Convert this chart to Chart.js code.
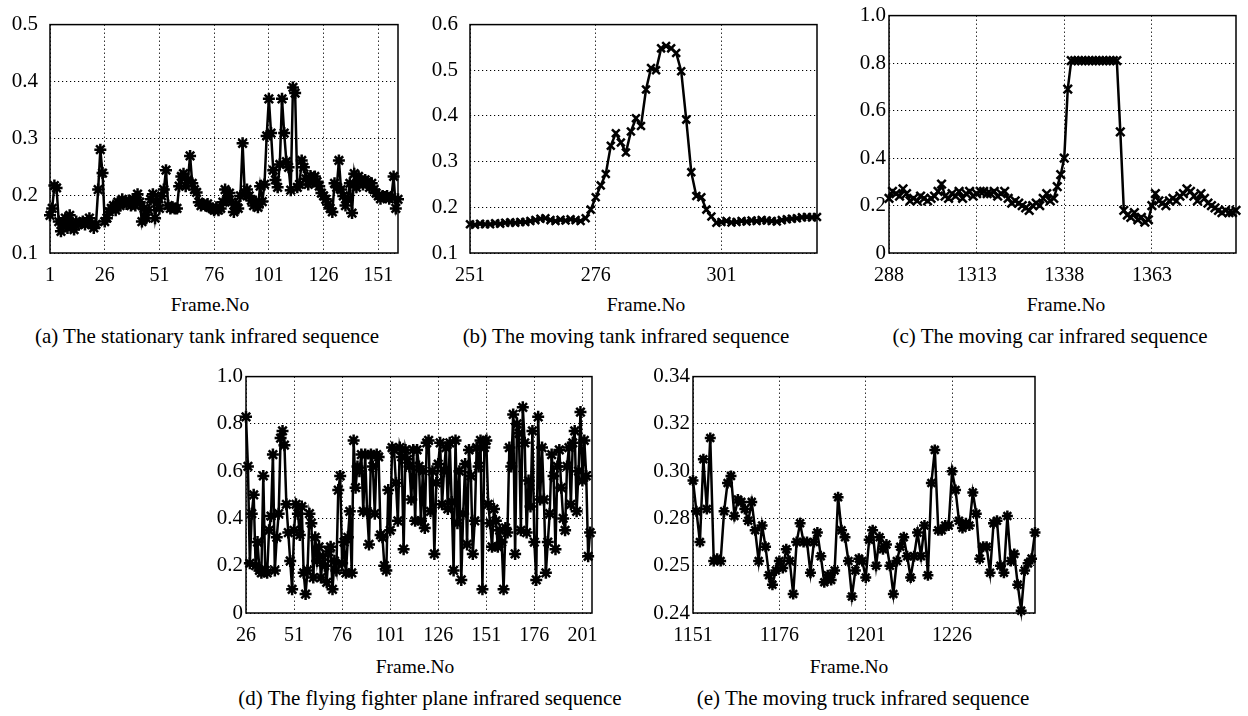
<!DOCTYPE html>
<html>
<head>
<meta charset="utf-8">
<script src="https://cdn.jsdelivr.net/npm/chart.js@4.4.1/dist/chart.umd.min.js"></script>
<style>
  body { margin: 0; background: #fff; width: 1248px; height: 716px; position: relative; overflow: hidden; font-family: "Liberation Serif", "Times New Roman", serif; color: #000; }
  canvas { position: absolute; }
  .lbl { position: absolute; transform: translate(-50%, -50%); white-space: nowrap; line-height: 1; }
  .axis { font-size: 19.5px; }
  .cap { font-size: 21px; }
</style>
</head>
<body>
<canvas id="chartA" width="418" height="287" style="left:0px;top:0px"></canvas>
<canvas id="chartB" width="417" height="287" style="left:420px;top:0px"></canvas>
<canvas id="chartC" width="409" height="287" style="left:839px;top:0px"></canvas>
<canvas id="chartD" width="416" height="286" style="left:196px;top:361px"></canvas>
<canvas id="chartE" width="412" height="286" style="left:643px;top:361px"></canvas>

<div class="lbl axis" style="left:210px;top:305px">Frame.No</div>
<div class="lbl axis" style="left:646px;top:305px">Frame.No</div>
<div class="lbl axis" style="left:1066px;top:305px">Frame.No</div>
<div class="lbl axis" style="left:415px;top:667px">Frame.No</div>
<div class="lbl axis" style="left:849px;top:667px">Frame.No</div>

<div class="lbl cap" style="left:207px;top:336px">(a) The stationary tank infrared sequence</div>
<div class="lbl cap" style="left:626px;top:336px">(b) The moving tank infrared sequence</div>
<div class="lbl cap" style="left:1050px;top:336px">(c) The moving car infrared sequence</div>
<div class="lbl cap" style="left:430px;top:698px">(d) The flying fighter plane infrared sequence</div>
<div class="lbl cap" style="left:863px;top:698px">(e) The moving truck infrared sequence</div>

<script>
// (a) stationary tank, frames 1..160
const startA = 1;
const valuesA = [
  0.166, 0.178, 0.218, 0.214, 0.155, 0.138, 0.150, 0.161, 0.144, 0.166,
  0.150, 0.141, 0.155, 0.150, 0.152, 0.155, 0.150, 0.155, 0.161, 0.150,
  0.144, 0.150, 0.211, 0.281, 0.240, 0.155, 0.161, 0.172, 0.178, 0.183,
  0.175, 0.189, 0.183, 0.194, 0.189, 0.186, 0.192, 0.183, 0.194, 0.183,
  0.203, 0.189, 0.155, 0.178, 0.161, 0.175, 0.194, 0.203, 0.161, 0.189,
  0.178, 0.200, 0.211, 0.245, 0.183, 0.178, 0.180, 0.178, 0.178, 0.217,
  0.234, 0.239, 0.217, 0.228, 0.270, 0.222, 0.211, 0.206, 0.189, 0.183,
  0.186, 0.183, 0.186, 0.180, 0.178, 0.175, 0.180, 0.175, 0.178, 0.189,
  0.211, 0.194, 0.205, 0.189, 0.172, 0.185, 0.178, 0.200, 0.292, 0.205,
  0.211, 0.200, 0.192, 0.183, 0.190, 0.180, 0.217, 0.190, 0.220, 0.305,
  0.370, 0.310, 0.245, 0.228, 0.215, 0.255, 0.370, 0.310, 0.260, 0.250,
  0.210, 0.390, 0.380, 0.215, 0.220, 0.262, 0.250, 0.230, 0.220, 0.235,
  0.225, 0.234, 0.225, 0.217, 0.205, 0.200, 0.194, 0.185, 0.178, 0.172,
  0.222, 0.215, 0.262, 0.211, 0.200, 0.183, 0.195, 0.222, 0.170, 0.239,
  0.215, 0.234, 0.225, 0.220, 0.228, 0.225, 0.215, 0.222, 0.211, 0.205,
  0.200, 0.195, 0.200, 0.198, 0.200, 0.195, 0.198, 0.234, 0.178, 0.194
];
const xTicksA = [1, 26, 51, 76, 101, 126, 151];
const yTicksA = [0.1, 0.2, 0.3, 0.4, 0.5];
const yLabelsA = ['0.1', '0.2', '0.3', '0.4', '0.5'];

// (b) moving tank, frames 251..320
const startB = 251;
const valuesB = [
  0.163, 0.162, 0.164, 0.163, 0.163, 0.165, 0.164, 0.166, 0.167, 0.166,
  0.168, 0.168, 0.170, 0.172, 0.175, 0.176, 0.172, 0.170, 0.173, 0.171,
  0.174, 0.172, 0.170, 0.176, 0.195, 0.222, 0.248, 0.273, 0.335, 0.362,
  0.342, 0.320, 0.366, 0.395, 0.378, 0.458, 0.505, 0.500, 0.548, 0.553,
  0.548, 0.538, 0.498, 0.392, 0.277, 0.225, 0.222, 0.195, 0.180, 0.166,
  0.168, 0.170, 0.167, 0.168, 0.170, 0.169, 0.171, 0.170, 0.172, 0.171,
  0.170, 0.169, 0.172, 0.174, 0.175, 0.176, 0.178, 0.179, 0.178, 0.179
];
const xTicksB = [251, 276, 301];
const yTicksB = [0.1, 0.2, 0.3, 0.4, 0.5, 0.6];
const yLabelsB = ['0.1', '0.2', '0.3', '0.4', '0.5', '0.6'];

// (c) moving car, frames 1288..1387
const startC = 1288;
const valuesC = [
  0.23, 0.26, 0.25, 0.24, 0.27, 0.25, 0.22, 0.23, 0.22, 0.24,
  0.23, 0.22, 0.23, 0.24, 0.26, 0.29, 0.24, 0.23, 0.25, 0.24,
  0.26, 0.23, 0.25, 0.26, 0.24, 0.25, 0.26, 0.26, 0.25, 0.25,
  0.26, 0.24, 0.25, 0.26, 0.23, 0.21, 0.22, 0.21, 0.20, 0.19,
  0.18, 0.20, 0.21, 0.20, 0.23, 0.25, 0.22, 0.23, 0.28, 0.33,
  0.40, 0.69, 0.81, 0.81, 0.81, 0.81, 0.81, 0.81, 0.81, 0.81,
  0.81, 0.81, 0.81, 0.81, 0.81, 0.81, 0.51, 0.18, 0.16, 0.15,
  0.17, 0.14, 0.15, 0.13, 0.14, 0.20, 0.25, 0.22, 0.21, 0.20,
  0.22, 0.23, 0.22, 0.24, 0.25, 0.27, 0.26, 0.24, 0.22, 0.25,
  0.23, 0.21, 0.20, 0.19, 0.18, 0.17, 0.18, 0.17, 0.17, 0.18
];
const xTicksC = [1288, 1313, 1338, 1363];
const xLabelsC = ['288', '1313', '1338', '1363'];
const yTicksC = [0, 0.2, 0.4, 0.6, 0.8, 1.0];
const yLabelsC = ['0', '0.2', '0.4', '0.6', '0.8', '1.0'];

// (d) flying fighter plane, frames 26..205
const startD = 26;
const valuesD = [
  0.83, 0.62, 0.21, 0.42, 0.50, 0.20, 0.30, 0.18, 0.17, 0.58,
  0.18, 0.17, 0.35, 0.41, 0.67, 0.18, 0.32, 0.42, 0.74, 0.77,
  0.71, 0.46, 0.34, 0.22, 0.10, 0.35, 0.46, 0.42, 0.33, 0.45,
  0.17, 0.08, 0.18, 0.42, 0.38, 0.15, 0.32, 0.22, 0.28, 0.15,
  0.24, 0.20, 0.13, 0.26, 0.28, 0.10, 0.22, 0.18, 0.52, 0.58,
  0.21, 0.30, 0.17, 0.32, 0.43, 0.17, 0.73, 0.53, 0.62, 0.60,
  0.67, 0.43, 0.67, 0.43, 0.29, 0.67, 0.62, 0.42, 0.67, 0.66,
  0.33, 0.32, 0.20, 0.18, 0.52, 0.35, 0.70, 0.69, 0.55, 0.39,
  0.70, 0.66, 0.27, 0.69, 0.65, 0.62, 0.48, 0.69, 0.39, 0.69,
  0.62, 0.39, 0.60, 0.36, 0.72, 0.73, 0.43, 0.60, 0.25, 0.55,
  0.63, 0.72, 0.46, 0.60, 0.70, 0.44, 0.72, 0.47, 0.18, 0.73,
  0.38, 0.60, 0.14, 0.42, 0.63, 0.29, 0.69, 0.58, 0.25, 0.39,
  0.70, 0.62, 0.73, 0.10, 0.70, 0.73, 0.46, 0.38, 0.28, 0.44,
  0.39, 0.28, 0.35, 0.30, 0.10, 0.36, 0.34, 0.70, 0.62, 0.84,
  0.25, 0.80, 0.76, 0.35, 0.87, 0.72, 0.34, 0.56, 0.45, 0.77,
  0.30, 0.14, 0.83, 0.48, 0.70, 0.48, 0.17, 0.30, 0.42, 0.67,
  0.58, 0.27, 0.62, 0.69, 0.53, 0.40, 0.35, 0.62, 0.70, 0.46,
  0.72, 0.77, 0.43, 0.60, 0.85, 0.56, 0.73, 0.58, 0.24, 0.34
];
const xTicksD = [26, 51, 76, 101, 126, 151, 176, 201];
const yTicksD = [0, 0.2, 0.4, 0.6, 0.8, 1.0];
const yLabelsD = ['0', '0.2', '0.4', '0.6', '0.8', '1.0'];

// (e) moving truck, frames 1151..1250
const startE = 1151;
const valuesE = [
  0.296, 0.283, 0.270, 0.305, 0.284, 0.314, 0.262, 0.263, 0.262, 0.283,
  0.295, 0.298, 0.281, 0.288, 0.287, 0.284, 0.279, 0.287, 0.275, 0.262,
  0.277, 0.268, 0.256, 0.252, 0.258, 0.262, 0.259, 0.267, 0.262, 0.248,
  0.270, 0.278, 0.270, 0.270, 0.257, 0.270, 0.274, 0.264, 0.253, 0.256,
  0.254, 0.258, 0.289, 0.275, 0.272, 0.262, 0.247, 0.258, 0.263, 0.262,
  0.255, 0.271, 0.275, 0.260, 0.272, 0.267, 0.269, 0.260, 0.248, 0.262,
  0.268, 0.272, 0.264, 0.255, 0.264, 0.274, 0.264, 0.277, 0.256, 0.295,
  0.309, 0.275, 0.275, 0.277, 0.277, 0.300, 0.292, 0.279, 0.276, 0.278,
  0.277, 0.291, 0.282, 0.263, 0.268, 0.268, 0.257, 0.278, 0.279, 0.260,
  0.257, 0.281, 0.262, 0.265, 0.252, 0.241, 0.258, 0.261, 0.263, 0.274
];
const xTicksE = [1151, 1176, 1201, 1226];
const yTicksE = [0.24, 0.26, 0.28, 0.30, 0.32, 0.34];
const yLabelsE = ['0.24', '0.25', '0.28', '0.30', '0.32', '0.34'];

Chart.defaults.font.family = "'Liberation Serif', 'Times New Roman', serif";
Chart.defaults.color = '#000';

// solid box round the plot area
const framePlugin = {
  id: 'plot_frame',
  beforeDatasetsDraw: (chart) => {
    const { ctx, chartArea: a } = chart;
    ctx.save();
    ctx.strokeStyle = '#000';
    ctx.lineWidth = 1.5;
    ctx.strokeRect(a.left, a.top, a.right - a.left, a.bottom - a.top);
    ctx.restore();
  }
};

function makePanel(id, start, values, o) {
  const points = values.map((v, i) => ({ x: start + i, y: v }));
  const xLabels = o.xLabels || o.xTicks.map(String);
  return new Chart(document.getElementById(id).getContext('2d'), {
    type: 'line',
    data: {
      datasets: [{
        data: points,
        borderColor: '#000',
        borderWidth: 2.5,
        tension: 0,
        pointStyle: o.marker,
        pointRadius: o.radius,
        pointBorderWidth: 2.5,
        pointBorderColor: '#000',
        pointBackgroundColor: '#000',
        clip: false
      }]
    },
    plugins: [framePlugin],
    options: {
      responsive: false,
      animation: false,
      devicePixelRatio: 1,
      layout: { padding: { top: 15, right: o.padRight, left: 0, bottom: 0 } },
      plugins: { legend: { display: false }, tooltip: { enabled: false } },
      scales: {
        x: {
          type: 'linear',
          min: o.xMin,
          max: o.xMax,
          afterBuildTicks: (s) => { s.ticks = o.xTicks.map(v => ({ value: v })); },
          afterFit: (s) => { s.height = 34; },
          ticks: {
            autoSkip: false, maxRotation: 0, padding: 11,
            font: { size: 20 },
            callback: (v, i) => xLabels[i]
          },
          grid: { color: '#000', lineWidth: 1, drawTicks: false },
          border: { display: false, dash: [1.2, 2.8] }
        },
        y: {
          min: o.yTicks[0],
          max: o.yTicks[o.yTicks.length - 1],
          afterBuildTicks: (s) => { s.ticks = o.yTicks.map(v => ({ value: v })); },
          afterFit: (s) => { s.width = 50; },
          ticks: {
            autoSkip: false, padding: o.yPad,
            font: { size: 21 },
            callback: (v, i) => o.yLabels[i]
          },
          grid: { color: '#000', lineWidth: 1, drawTicks: false },
          border: { display: false, dash: [1.2, 2.8] }
        }
      }
    }
  });
}

const chartA = makePanel('chartA', startA, valuesA, {
  xMin: 1, xMax: 160, xTicks: xTicksA, yTicks: yTicksA, yLabels: yLabelsA,
  marker: 'star', radius: 6, yPad: 12, padRight: 20
});
const chartB = makePanel('chartB', startB, valuesB, {
  xMin: 251, xMax: 320, xTicks: xTicksB, yTicks: yTicksB, yLabels: yLabelsB,
  marker: 'crossRot', radius: 5.5, yPad: 12, padRight: 20
});
const chartC = makePanel('chartC', startC, valuesC, {
  xMin: 1288, xMax: 1387, xTicks: xTicksC, xLabels: xLabelsC, yTicks: yTicksC, yLabels: yLabelsC,
  marker: 'crossRot', radius: 6, yPad: 3, padRight: 12
});
const chartD = makePanel('chartD', startD, valuesD, {
  xMin: 26, xMax: 206, xTicks: xTicksD, yTicks: yTicksD, yLabels: yLabelsD,
  marker: 'star', radius: 6, yPad: 3, padRight: 20
});
const chartE = makePanel('chartE', startE, valuesE, {
  xMin: 1151, xMax: 1250, xTicks: xTicksE, yTicks: yTicksE, yLabels: yLabelsE,
  marker: 'star', radius: 5.5, yPad: 3, padRight: 20
});
</script>
</body>
</html>
